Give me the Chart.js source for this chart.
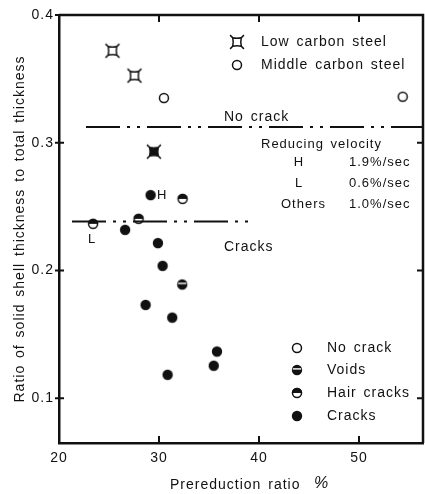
<!DOCTYPE html>
<html>
<head>
<meta charset="utf-8">
<script src="https://cdn.jsdelivr.net/npm/chart.js@4.4.0/dist/chart.umd.min.js"></script>
<style>
  html, body { margin: 0; padding: 0; background: #fff; }
  canvas { display: block; }
</style>
</head>
<body>
<canvas id="chart" width="425" height="494"></canvas>
<script>
// ---- data ----
const xTicks = [20, 30, 40, 50];
const yTicks = [0.1, 0.2, 0.3, 0.4];

const lowCarbonNoCrack = [{ x: 25.35, y: 0.372 }, { x: 27.55, y: 0.3525 }];
const lowCarbonCracks = [{ x: 29.49, y: 0.293 }];
const noCrack = [{ x: 30.49, y: 0.335 }, { x: 54.37, y: 0.336 }];
const voids = [{ x: 32.32, y: 0.189 }];
const hairCracks = [{ x: 23.41, y: 0.2365 }, { x: 27.96, y: 0.2404 }, { x: 32.36, y: 0.256 }];
const cracks = [
  { x: 29.16, y: 0.259 }, { x: 26.61, y: 0.2318 }, { x: 29.89, y: 0.2214 },
  { x: 30.36, y: 0.2036 }, { x: 28.66, y: 0.173 }, { x: 31.32, y: 0.1631 },
  { x: 30.86, y: 0.1183 }, { x: 35.47, y: 0.1254 }, { x: 35.80, y: 0.1365 }
];
const noCrackLine = [{ x: 22.7, y: 0.3124 }, { x: 56.4, y: 0.3124 }];
const cracksLine = [{ x: 21.3, y: 0.2383 }, { x: 39.6, y: 0.2383 }];

const FONT = "'Liberation Sans', Arial, sans-serif";
const INK = '#111';

// ---- marker images ----
function makeMarker(kind) {
  const c = document.createElement('canvas');
  c.width = 18; c.height = 18;
  const g = c.getContext('2d');
  g.translate(9, 9);
  g.strokeStyle = INK;
  g.fillStyle = INK;
  g.lineWidth = 1.5;
  const r = 5.2;
  if (kind === 'xsq' || kind === 'xsqFilled') {
    const s = 4.3;
    const k = 1.0;
    g.beginPath();
    g.moveTo(-s, -s);
    g.quadraticCurveTo(0, -s + k, s, -s);
    g.quadraticCurveTo(s - k, 0, s, s);
    g.quadraticCurveTo(0, s - k, -s, s);
    g.quadraticCurveTo(-s + k, 0, -s, -s);
    g.closePath();
    if (kind === 'xsqFilled') g.fill();
    g.stroke();
    g.beginPath();
    [[-1, -1], [1, -1], [1, 1], [-1, 1]].forEach(([a, b]) => {
      g.moveTo(a * s, b * s);
      g.lineTo(a * (s + 2.6), b * (s + 2.6));
    });
    g.stroke();
  } else if (kind === 'open') {
    g.beginPath(); g.arc(0, 0, r - 0.7, 0, Math.PI * 2); g.fillStyle = '#fff'; g.fill(); g.stroke();
  } else if (kind === 'filled') {
    g.beginPath(); g.arc(0, 0, r, 0, Math.PI * 2); g.fill();
  } else if (kind === 'hair') {
    g.beginPath(); g.arc(0, 0, r - 0.7, 0, Math.PI * 2); g.fillStyle = '#fff'; g.fill();
    g.fillStyle = INK;
    g.beginPath(); g.arc(0, 0, r, Math.PI, Math.PI * 2); g.closePath(); g.fill();
    g.beginPath(); g.arc(0, 0, r - 0.7, 0, Math.PI * 2); g.stroke();
  } else if (kind === 'voids') {
    g.beginPath(); g.arc(0, 0, r, 0, Math.PI * 2); g.fill();
    g.fillStyle = '#fff';
    g.fillRect(-r + 1, -1.8, 2 * r - 2, 1.4);
  }
  return c;
}

const markers = {
  xsq: makeMarker('xsq'),
  xsqFilled: makeMarker('xsqFilled'),
  open: makeMarker('open'),
  filled: makeMarker('filled'),
  hair: makeMarker('hair'),
  voids: makeMarker('voids')
};

function pts(label, data, marker) {
  return { type: 'scatter', label, data, pointStyle: markers[marker], pointRadius: 6, showLine: false };
}
function refLine(label, data) {
  return {
    type: 'line', label, data, borderColor: INK, borderWidth: 2,
    borderDash: [34, 7, 3, 7, 3, 7], pointRadius: 0, fill: false
  };
}

// typewriter-like spacing of the printed figure
function spacing(ctx) {
  ctx.letterSpacing = '1px';
  ctx.wordSpacing = '2px';
}
const spaced = {
  id: 'spaced',
  beforeUpdate(chart) { spacing(chart.ctx); },
  beforeDraw(chart) { spacing(chart.ctx); }
};

// ---- frame, inward ticks and annotations ----
const decor = {
  id: 'decor',
  afterDraw(chart) {
    const { ctx, chartArea: a, scales: { x, y } } = chart;
    ctx.save();
    spacing(ctx);
    ctx.strokeStyle = INK;
    ctx.lineWidth = 2.5;
    ctx.beginPath();
    ctx.moveTo(a.left, a.top); ctx.lineTo(a.right, a.top); ctx.lineTo(a.right, a.bottom);
    ctx.stroke();
    ctx.lineWidth = 2;
    ctx.beginPath();
    xTicks.slice(1).forEach(v => {
      const px = x.getPixelForValue(v);
      ctx.moveTo(px, a.bottom); ctx.lineTo(px, a.bottom - 7);
      ctx.moveTo(px, a.top); ctx.lineTo(px, a.top + 7);
    });
    yTicks.forEach(v => {
      const py = y.getPixelForValue(v);
      ctx.moveTo(a.left - 4, py); ctx.lineTo(a.left + 5, py);
      if (v < 0.4) { ctx.moveTo(a.right, py); ctx.lineTo(a.right - 6, py); }
    });
    ctx.stroke();

    ctx.fillStyle = INK;
    ctx.textBaseline = 'middle';
    ctx.textAlign = 'left';
    const txt = (s, px, py, size) => { ctx.font = size + 'px ' + FONT; ctx.fillText(s, px, py); };
    txt('No crack', 224, 117, 14);
    txt('Cracks', 224, 247, 14);
    txt('H', 157, 195, 13);
    txt('L', 88, 239, 13);
    txt('Reducing velocity', 261, 144, 13);
    ctx.textAlign = 'center';
    txt('H', 299, 162, 13);
    txt('L', 299, 183, 13);
    ctx.textAlign = 'left';
    txt('Others', 281, 204, 13);
    txt('1.9%/sec', 349, 162, 13);
    txt('0.6%/sec', 349, 183, 13);
    txt('1.0%/sec', 349, 204, 13);

    // legends
    const leg = (m, mx, my, s, tx) => {
      ctx.drawImage(markers[m], mx - 9, my - 9);
      txt(s, tx, my, 14);
    };
    leg('xsq', 237, 42, 'Low carbon steel', 261);
    leg('open', 237, 65, 'Middle carbon steel', 261);
    leg('open', 297, 348, 'No crack', 327);
    leg('voids', 297, 370, 'Voids', 327);
    leg('hair', 297, 393, 'Hair cracks', 327);
    leg('filled', 297, 416, 'Cracks', 327);

    // x axis title
    txt('Prereduction ratio', 170, 485, 14);
    ctx.font = 'italic 16px ' + FONT;
    ctx.fillText('%', 314, 484);
    ctx.restore();
  }
};

new Chart(document.getElementById('chart').getContext('2d'), {
  data: {
    datasets: [
      refLine('No crack line', noCrackLine),
      refLine('Cracks line', cracksLine),
      pts('Low carbon steel', lowCarbonNoCrack, 'xsq'),
      pts('Low carbon steel, cracks', lowCarbonCracks, 'xsqFilled'),
      pts('No crack', noCrack, 'open'),
      pts('Voids', voids, 'voids'),
      pts('Hair cracks', hairCracks, 'hair'),
      pts('Cracks', cracks, 'filled')
    ]
  },
  options: {
    responsive: false,
    animation: false,
    layout: { autoPadding: false, padding: { top: 15, right: 2, left: 0, bottom: 0 } },
    plugins: { legend: { display: false }, tooltip: { enabled: false } },
    scales: {
      x: {
        type: 'linear',
        min: 20,
        max: 56.4,
        afterFit(s) { s.height = 51; },
        afterBuildTicks(s) { s.ticks = xTicks.map(v => ({ value: v })); },
        grid: { display: false, drawTicks: false },
        border: { display: true, color: INK, width: 2.5 },
        ticks: { color: INK, padding: 7, font: { family: FONT, size: 14 } }
      },
      y: {
        type: 'linear',
        min: 0.0649,
        max: 0.4,
        afterFit(s) { s.width = 59; },
        afterBuildTicks(s) { s.ticks = yTicks.map(v => ({ value: v })); },
        grid: { display: false, drawTicks: false },
        border: { display: true, color: INK, width: 2.5 },
        ticks: {
          color: INK, padding: 5, font: { family: FONT, size: 14 },
          callback: v => v.toFixed(1)
        },
        title: {
          display: true,
          text: 'Ratio of solid shell thickness to total thickness',
          color: INK,
          font: { family: FONT, size: 14 },
          padding: { top: 12, bottom: 0 }
        }
      }
    }
  },
  plugins: [spaced, decor]
});
</script>
</body>
</html>
